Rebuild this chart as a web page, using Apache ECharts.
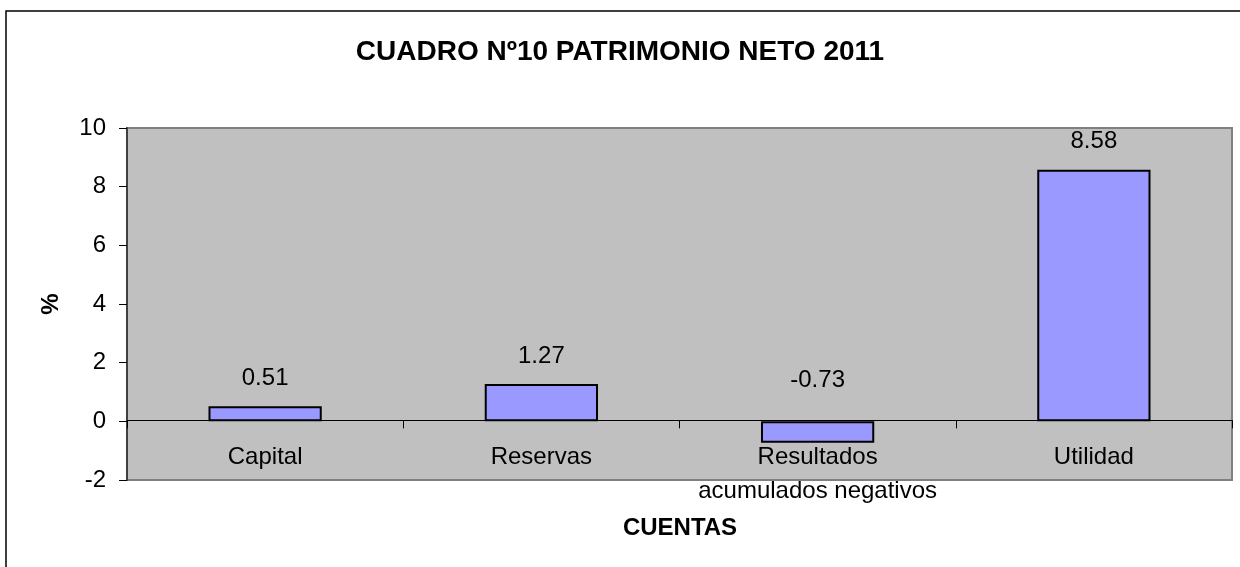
<!DOCTYPE html>
<html>
<head>
<meta charset="utf-8">
<title>Patrimonio neto 2011</title>
<script src="https://cdn.jsdelivr.net/npm/echarts@6/dist/echarts.min.js"></script>
<style>
    html, body { margin: 0; padding: 0; background: #fff; }
    .chart { width: 1240px; height: 567px; }
</style>
</head>
<body>
<div class="chart"></div>
<script>
// datos del cuadro
var cuentas = ['Capital', 'Reservas', 'Resultados\nacumulados negativos', 'Utilidad'];
var porcentajes = [0.51, 1.27, -0.73, 8.58];
var yMin = -2, yMax = 10, yStep = 2;

(function () {
    var font = '"Liberation Sans", Arial, sans-serif';
    var myChart = echarts.init(document.querySelector(".chart"));

    var gridTop = 128, gridBottom = 87;
    var plotH = 567 - gridTop - gridBottom;
    // el eje de categorias va sobre el cero
    var zeroOffset = -plotH * (0 - yMin) / (yMax - yMin) - 1;

    // las etiquetas van encima; la negativa sobre la linea del cero
    var barras = porcentajes.map(function (v) {
        return {
            value: v,
            label: { distance: v < 0 ? 29 : 16 }
        };
    });

    var option = {
        animation: false,
        textStyle: { fontFamily: font },
        title: {
            text: 'CUADRO Nº10 PATRIMONIO NETO 2011',
            left: 'center',
            top: 33,
            textStyle: { fontFamily: font, fontSize: 28, fontWeight: 'bold', color: '#000' }
        },
        graphic: [{
            // marco exterior (cortado por la derecha y abajo)
            type: 'rect',
            shape: { x: 6, y: 11, width: 1300, height: 700 },
            style: { fill: 'none', stroke: '#000', lineWidth: 1.5 },
            z: -1
        }, {
            type: 'text',
            x: 680,
            y: 528,
            style: {
                text: 'CUENTAS',
                font: 'bold 24px ' + font,
                fill: '#000',
                align: 'center',
                verticalAlign: 'middle'
            }
        }],
        grid: {
            left: 127,
            right: 8,
            top: gridTop,
            bottom: gridBottom,
            show: true,
            backgroundColor: '#c0c0c0',
            borderColor: '#808080',
            borderWidth: 2
        },
        xAxis: {
            type: 'category',
            data: cuentas,
            offset: zeroOffset,
            axisLine: { onZero: false, lineStyle: { color: '#000', width: 1 } },
            axisTick: { show: true, alignWithLabel: false, length: 8, lineStyle: { color: '#000' } },
            axisLabel: {
                color: '#000',
                fontSize: 24,
                lineHeight: 34,
                margin: 20,
                fontFamily: font,
                interval: 0
            }
        },
        yAxis: {
            type: 'value',
            min: yMin,
            max: yMax,
            interval: yStep,
            name: '%',
            nameLocation: 'middle',
            nameGap: 64,
            nameTextStyle: { fontSize: 24, fontWeight: 'bold', color: '#000', fontFamily: font },
            axisLine: { show: true, lineStyle: { color: '#404040', width: 2 } },
            axisTick: { show: true, length: 8, lineStyle: { color: '#000' } },
            axisLabel: { color: '#000', fontSize: 24, margin: 21, fontFamily: font },
            splitLine: { show: false }
        },
        series: [{
            type: 'bar',
            data: barras,
            barWidth: '41%',
            itemStyle: { color: '#9999ff', borderColor: '#000', borderWidth: 2 },
            label: {
                show: true,
                position: 'top',
                color: '#000',
                fontSize: 24,
                fontFamily: font
            }
        }]
    };
    myChart.setOption(option);
    window.addEventListener("resize", function () {
        myChart.resize();
    })
})();
</script>
</body>
</html>
